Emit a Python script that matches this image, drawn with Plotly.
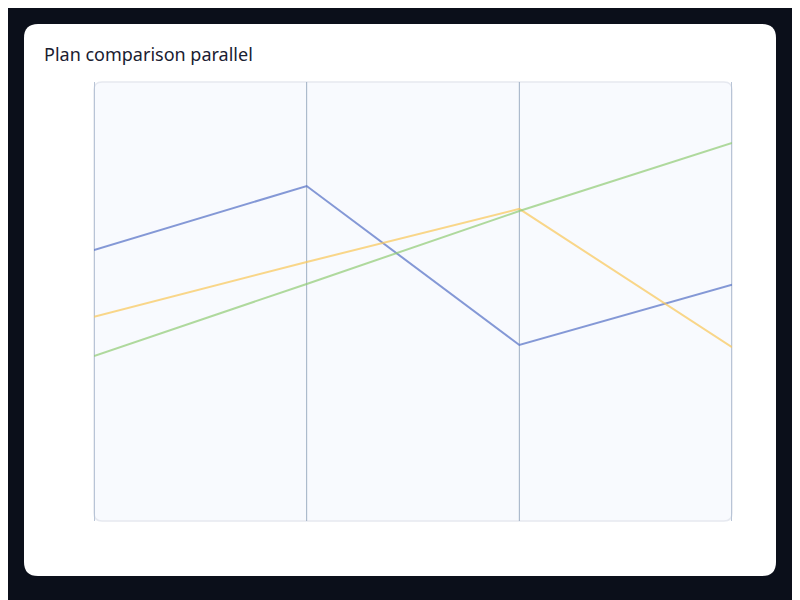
import plotly.graph_objects as go

# Данные: оси (измерения) и значения по планам (нормированы 0-100)
dims = ['Price', 'Storage', 'Users', 'Support']
plan_a = [61.7, 76.3, 40.1, 53.8]
plan_b = [46.5, 59.0, 71.1, 39.6]
plan_c = [37.6, 54.0, 70.6, 86.1]
names = ['Basic', 'Pro', 'Team']
colors = ['#5470c6', '#fac858', '#91cc75']

OFF = 8  # отступ body страницы
W, H = 800, 600
L, R, T, B = 94 - OFF, 732 - OFF, 82 - OFF, 521 - OFF  # область графика в пикселях


def px(x):
    return (x - L) / (R - L)


def py(y):
    return (B - y) / (B - T)


def rounded(x0, y0, x1, y1, r):
    # скруглённый прямоугольник в координатах paper (по пикселям)
    rx = r / (R - L)
    ry = r / (B - T)
    a, b, c, d = px(x0), py(y1), px(x1), py(y0)
    return (f'M{a+rx},{b} L{c-rx},{b} Q{c},{b} {c},{b+ry} L{c},{d-ry} Q{c},{d} {c-rx},{d} '
            f'L{a+rx},{d} Q{a},{d} {a},{d-ry} L{a},{b+ry} Q{a},{b} {a+rx},{b} Z')


fig = go.Figure()
for vals, name, col in zip([plan_a, plan_b, plan_c], names, colors):
    fig.add_trace(go.Scatter(x=list(range(len(dims))), y=vals, mode='lines', name=name,
                             line=dict(color=col, width=2), opacity=0.7,
                             hovertemplate=name + '<br>%{text}: %{y}<extra></extra>', text=dims))

shapes = [
    dict(type='path', xref='paper', yref='paper', path=rounded(24 - OFF, 24 - OFF, 776 - OFF, 576 - OFF, 14),
         fillcolor='white', line=dict(width=0), layer='below'),
    dict(type='path', xref='paper', yref='paper', path=rounded(L, T, R, B, 8),
         fillcolor='#f8fafe', line=dict(color='#e6e9f0', width=1.5), layer='below'),
]
for i in range(len(dims)):
    edge = i in (0, len(dims) - 1)
    shapes.append(dict(type='line', xref='x', yref='paper', x0=i, x1=i, y0=0, y1=1,
                       line=dict(color='#b8c4d6' if edge else '#9eafc3', width=2 if edge else 1),
                       layer='below'))

fig.update_layout(
    width=W, height=H,
    margin=dict(l=L, r=W - R, t=T, b=H - B),
    paper_bgcolor='#0b0f1a', plot_bgcolor='rgba(0,0,0,0)',
    shapes=shapes,
    showlegend=False,
    title=dict(text='Plan comparison parallel', x=(44 - OFF) / W, xanchor='left', xref='container',
               y=1 - (55 - OFF) / H, yanchor='middle', yref='container',
               font=dict(family='Noto Sans', size=18, color='#1a2030')),
    xaxis=dict(range=[0, len(dims) - 1], visible=False, fixedrange=True),
    yaxis=dict(range=[0, 100], visible=False, fixedrange=True),
)
fig.write_html('out.html')
